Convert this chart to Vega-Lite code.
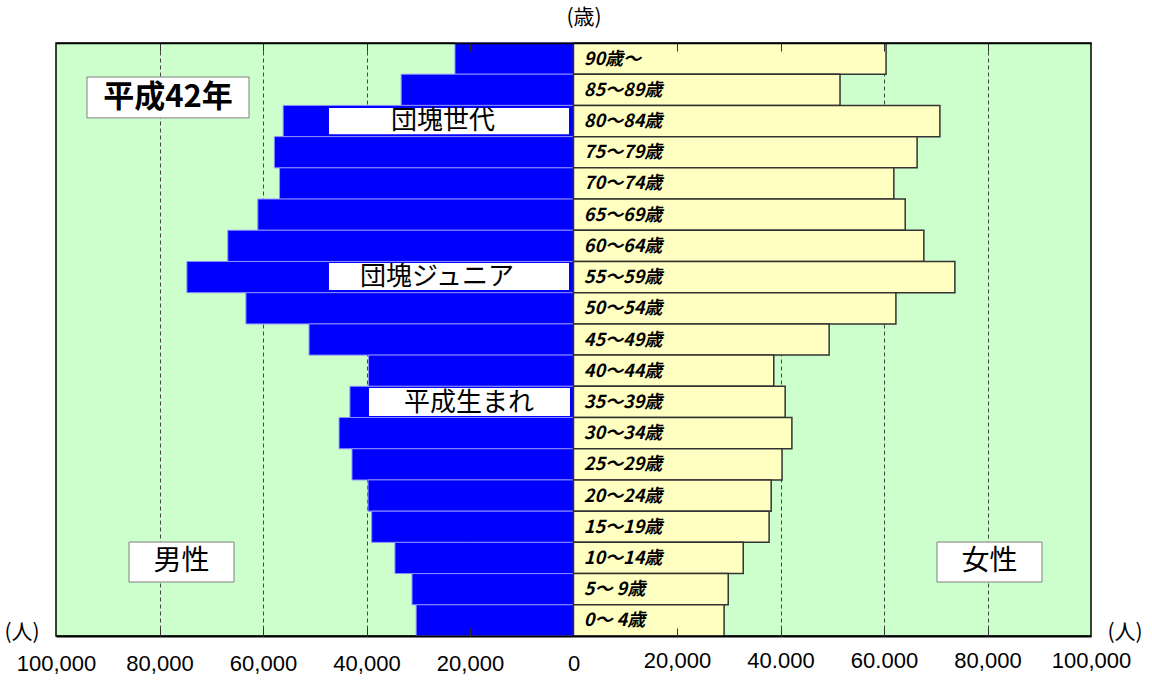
{
  "$schema": "https://vega.github.io/schema/vega-lite/v6.json",
  "width": 1035,
  "height": 593,
  "autosize": {"type": "none"},
  "padding": {"left": 56, "top": 43, "right": 61, "bottom": 48},
  "background": "#FFFFFF",
  "config": {
    "view": {"fill": "#CCFFCC", "stroke": "#000000", "strokeWidth": 1.5},
    "font": "Noto Sans CJK JP"
  },
  "datasets": {
    "pop": [
      {"age": "90歳～", "male": 22900, "female": 60400},
      {"age": "85～89歳", "male": 33300, "female": 51500},
      {"age": "80～84歳", "male": 56100, "female": 70800},
      {"age": "75～79歳", "male": 57800, "female": 66400},
      {"age": "70～74歳", "male": 56800, "female": 61900},
      {"age": "65～69歳", "male": 61000, "female": 64100},
      {"age": "60～64歳", "male": 66800, "female": 67700},
      {"age": "55～59歳", "male": 74700, "female": 73700},
      {"age": "50～54歳", "male": 63300, "female": 62300},
      {"age": "45～49歳", "male": 51100, "female": 49400},
      {"age": "40～44歳", "male": 39600, "female": 38700},
      {"age": "35～39歳", "male": 43200, "female": 40900},
      {"age": "30～34歳", "male": 45300, "female": 42200},
      {"age": "25～29歳", "male": 42800, "female": 40300},
      {"age": "20～24歳", "male": 39700, "female": 38200},
      {"age": "15～19歳", "male": 39000, "female": 37800},
      {"age": "10～14歳", "male": 34500, "female": 32800},
      {"age": "5～ 9歳", "male": 31200, "female": 29900},
      {"age": "0～ 4歳", "male": 30400, "female": 29100}
    ],
    "tags": [
      {"label": "団塊世代", "x1": -47250, "x2": -870, "y1": 2.08, "y2": 2.92, "xc": -25220, "yc": 2.5},
      {"label": "団塊ジュニア", "x1": -47250, "x2": -870, "y1": 7.05, "y2": 7.91, "xc": -26380, "yc": 7.5},
      {"label": "平成生まれ", "x1": -39520, "x2": -680, "y1": 11.05, "y2": 11.95, "xc": -20190, "yc": 11.53}
    ],
    "panels": [
      {"label": "平成42年", "x1": -94010, "x2": -62700, "y1": 1.09, "y2": 2.4, "xc": -78360, "yc": 1.75},
      {"label": "男性", "x1": -85890, "x2": -65600, "y1": 15.99, "y2": 17.27, "xc": -75750, "yc": 16.63},
      {"label": "女性", "x1": 70240, "x2": 90530, "y1": 15.99, "y2": 17.27, "xc": 80390, "yc": 16.63}
    ],
    "units": [
      {"label": "(歳)", "xc": 2030, "yc": -0.8},
      {"label": "(人)", "xc": -106570, "yc": 18.9},
      {"label": "(人)", "xc": 106570, "yc": 18.9}
    ]
  },
  "resolve": {"scale": {"x": "independent", "y": "independent"}},
  "layer": [
    {
      "data": {"name": "pop"},
      "mark": {"type": "bar", "fill": "#0000FF", "stroke": "#8C8CFF", "strokeWidth": 1},
      "encoding": {
        "y": {"field": "age", "type": "nominal", "sort": null, "scale": {"paddingInner": 0, "paddingOuter": 0}, "axis": null},
        "x": {"field": "male", "type": "quantitative", "scale": {"domain": [-100000, 100000], "nice": false, "reverse": true}, "axis": null}
      }
    },
    {
      "data": {"name": "pop"},
      "mark": {"type": "bar", "fill": "#FFFFC2", "stroke": "#333333", "strokeWidth": 1.5},
      "encoding": {
        "y": {"field": "age", "type": "nominal", "sort": null, "scale": {"paddingInner": 0, "paddingOuter": 0}, "axis": null},
        "x": {
          "field": "female", "type": "quantitative",
          "scale": {"domain": [-100000, 100000], "nice": false},
          "axis": {
            "orient": "bottom", "title": null, "zindex": 0,
            "values": [-80000, -60000, -40000, -20000, 20000, 40000, 60000, 80000],
            "grid": true, "gridDash": [4, 3], "gridColor": "#444444", "gridWidth": 1, "gridOpacity": 1,
            "ticks": false, "labels": false, "domain": false
          }
        }
      }
    },
    {
      "data": {"name": "tags"},
      "mark": {"type": "rect", "fill": "#FFFFFF"},
      "encoding": {
        "x": {
          "field": "x1", "type": "quantitative",
          "scale": {"domain": [-100000, 100000], "nice": false},
          "axis": {
            "orient": "bottom", "title": null, "zindex": 1,
            "values": [-100000, -80000, -60000, -40000, -20000, 0, 20000, 40000, 60000, 80000, 100000],
            "labelExpr": "datum.value == 40000 ? '40.000' : datum.value == 60000 ? '60.000' : format(abs(datum.value), ',')",
            "labelFont": "Liberation Sans", "labelFontSize": 22, "labelColor": "#000000",
            "labelPadding": {"condition": {"test": "datum.value > 0", "value": 14}, "value": 17},
            "labelFlush": false, "labelOverlap": false,
            "ticks": false, "grid": false,
            "domain": true, "domainColor": "#000000", "domainWidth": 2
          }
        },
        "x2": {"field": "x2"},
        "y": {"field": "y1", "type": "quantitative", "scale": {"domain": [0, 19], "nice": false, "zero": false, "reverse": true}, "axis": null},
        "y2": {"field": "y2"}
      }
    },
    {
      "data": {"name": "tags"},
      "mark": {"type": "text", "align": "center", "baseline": "middle", "font": "Noto Sans CJK JP", "fontSize": 26, "color": "#000000"},
      "encoding": {
        "x": {
          "field": "xc", "type": "quantitative",
          "scale": {"domain": [-100000, 100000], "nice": false},
          "axis": {
            "orient": "top", "title": null, "zindex": 1,
            "values": [-80000, -60000, -40000, -20000, 20000, 40000, 60000, 80000],
            "labels": false, "grid": false,
            "ticks": true, "tickSize": -8, "tickColor": "#333333", "tickWidth": 1,
            "domain": true, "domainColor": "#000000", "domainWidth": 1.5
          }
        },
        "y": {"field": "yc", "type": "quantitative", "scale": {"domain": [0, 19], "nice": false, "zero": false, "reverse": true}, "axis": null},
        "text": {"field": "label"}
      }
    },
    {
      "data": {"name": "panels"},
      "mark": {"type": "rect", "fill": "#FFFFFF", "stroke": "#7F7F7F", "strokeWidth": 1},
      "encoding": {
        "x": {
          "field": "x1", "type": "quantitative",
          "scale": {"domain": [-100000, 100000], "nice": false},
          "axis": {
            "orient": "bottom", "title": null, "zindex": 1,
            "values": [-80000, -60000, -40000, -20000, 20000, 40000, 60000, 80000],
            "labels": false, "grid": false, "domain": false,
            "ticks": true, "tickSize": -8, "tickColor": "#333333", "tickWidth": 1
          }
        },
        "x2": {"field": "x2"},
        "y": {"field": "y1", "type": "quantitative", "scale": {"domain": [0, 19], "nice": false, "zero": false, "reverse": true}, "axis": null},
        "y2": {"field": "y2"}
      }
    },
    {
      "data": {"name": "panels"},
      "transform": [{"filter": "datum.label == '平成42年'"}],
      "mark": {"type": "text", "align": "center", "baseline": "middle", "font": "Noto Sans CJK JP", "fontSize": 31, "fontWeight": "bold", "color": "#000000"},
      "encoding": {
        "x": {"field": "xc", "type": "quantitative", "scale": {"domain": [-100000, 100000], "nice": false}, "axis": null},
        "y": {"field": "yc", "type": "quantitative", "scale": {"domain": [0, 19], "nice": false, "zero": false, "reverse": true}, "axis": null},
        "text": {"field": "label"}
      }
    },
    {
      "data": {"name": "panels"},
      "transform": [{"filter": "datum.label != '平成42年'"}],
      "mark": {"type": "text", "align": "center", "baseline": "middle", "font": "Noto Sans CJK JP", "fontSize": 28, "color": "#000000"},
      "encoding": {
        "x": {"field": "xc", "type": "quantitative", "scale": {"domain": [-100000, 100000], "nice": false}, "axis": null},
        "y": {"field": "yc", "type": "quantitative", "scale": {"domain": [0, 19], "nice": false, "zero": false, "reverse": true}, "axis": null},
        "text": {"field": "label"}
      }
    },
    {
      "data": {"name": "pop"},
      "mark": {"type": "text", "align": "left", "baseline": "middle", "font": "Noto Sans CJK JP", "fontSize": 18, "fontStyle": "italic", "fontWeight": "bold", "color": "#000000", "dy": 1},
      "encoding": {
        "y": {"field": "age", "type": "nominal", "sort": null, "scale": {"paddingInner": 0, "paddingOuter": 0}, "axis": null},
        "x": {"datum": 2000, "type": "quantitative", "scale": {"domain": [-100000, 100000], "nice": false}, "axis": null},
        "text": {"field": "age"}
      }
    },
    {
      "data": {"name": "units"},
      "mark": {"type": "text", "align": "center", "baseline": "middle", "font": "Noto Sans CJK JP", "fontSize": 21, "color": "#000000"},
      "encoding": {
        "x": {"field": "xc", "type": "quantitative", "scale": {"domain": [-100000, 100000], "nice": false}, "axis": null},
        "y": {"field": "yc", "type": "quantitative", "scale": {"domain": [0, 19], "nice": false, "zero": false, "reverse": true}, "axis": null},
        "text": {"field": "label"}
      }
    }
  ]
}
